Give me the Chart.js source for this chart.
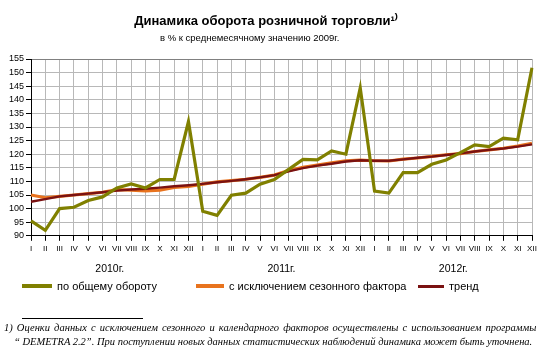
<!DOCTYPE html>
<html><head><meta charset="utf-8">
<script src="https://cdn.jsdelivr.net/npm/chart.js@4.4.1/dist/chart.umd.min.js"></script>
<style>
html,body{margin:0;padding:0;background:#fff;}
#wrap{position:relative;width:558px;height:361px;overflow:hidden;font-family:Arial,"Liberation Sans",sans-serif;}
#c{position:absolute;left:0;top:0;}
#sub{position:absolute;left:160px;top:32px;font-size:9.5px;color:#000;white-space:nowrap;line-height:12px;}
#fnline{position:absolute;left:22px;top:318px;width:121px;height:0;border-top:1px solid #000;}
.fn{position:absolute;left:4px;font-family:"Liberation Serif",serif;font-style:italic;font-size:10.5px;color:#000;white-space:nowrap;}
.lg{position:absolute;top:279px;height:14px;display:flex;align-items:center;font-size:11px;color:#000;white-space:nowrap;}
.lg i{display:inline-block;height:4px;margin-right:5px;}
</style></head>
<body><div id="wrap"><canvas id="c" width="558" height="361"></canvas>
<div id="sub"></div>
<div class="lg" id="lg0" style="left:22px"><i style="width:30px"></i><span></span></div>
<div class="lg" id="lg1" style="left:196px"><i style="width:28px"></i><span></span></div>
<div class="lg" id="lg2" style="left:418px"><i style="width:26px;height:3px"></i><span></span></div>
<div id="fnline"></div>
<div class="fn" id="fn1" style="top:322px;word-spacing:1.5px">1) Оценки  данных с исключением  сезонного и календарного  факторов осуществлены с использованием  программы</div>
<div class="fn" id="fn2" style="top:336px;left:14px">“ DEMETRA 2.2”.  При поступлении новых данных статистических наблюдений динамика может быть уточнена.</div>
</div>
<script>
const months = ['I','II','III','IV','V','VI','VII','VIII','IX','X','XI','XII'];
const years = ['2010г.','2011г.','2012г.'];
const categories = [].concat(months, months, months);
const totalTurnover = [95.5,92,100,100.5,103,104.3,107.6,109.1,107.6,110.7,110.7,132,
  99,97.5,104.9,105.7,109,110.7,114.4,118.1,117.9,121.2,120,144.4,
  106.4,105.7,113.2,113.2,116.3,117.9,120.6,123.4,122.8,125.9,125.3,151.8];
const seasonAdj = [105,104,104.5,105,105.5,106,107,106.8,106.5,106.8,107.8,108.2,
  109,109.8,110.3,110.8,111.5,112.3,114,115.2,116,116.8,117.6,117.8,
  117.6,117.5,118.2,118.6,119.2,119.8,120.2,121,121.6,122.2,123,124];
const trend = [102.5,103.5,104.5,105,105.5,106,106.6,107,107.3,107.7,108.2,108.6,
  109.1,109.7,110.2,110.8,111.5,112.3,113.7,114.9,115.8,116.5,117.3,117.8,
  117.6,117.6,118.1,118.7,119.1,119.7,120.3,121,121.6,122.1,122.8,123.6];
const yearPos = [5.5,17.5,29.5];
const seriesNames = ['по общему обороту','с исключением сезонного фактора','тренд'];
const colors = ['#808000','#E8731E','#7A1212'];
const titleText = 'Динамика оборота розничной торговли¹⁾';
const subtitleText = 'в % к среднемесячному значению 2009г.';

document.getElementById('sub').textContent = subtitleText;
seriesNames.forEach((n,i)=>{
  const el=document.getElementById('lg'+i);
  el.querySelector('i').style.background=colors[i];
  el.querySelector('span').textContent=n;
});

const F='Arial, "Liberation Sans", sans-serif';
new Chart(document.getElementById('c'), {
  type:'line',
  data:{labels:categories, datasets:[
    {label:seriesNames[0], data:totalTurnover, borderColor:colors[0], backgroundColor:colors[0], borderWidth:3.2, pointRadius:0, tension:0, order:0},
    {label:seriesNames[1], data:seasonAdj, borderColor:colors[1], backgroundColor:colors[1], borderWidth:3.2, pointRadius:0, tension:0, order:2},
    {label:seriesNames[2], data:trend, borderColor:colors[2], backgroundColor:colors[2], borderWidth:2.4, pointRadius:0, tension:0, order:1}
  ]},
  options:{
    responsive:false, animation:false,
    layout:{padding:{left:0,right:26,top:0,bottom:80}},
    plugins:{
      tooltip:{enabled:false},
      legend:{display:false},
      title:{display:true, text:titleText, color:'#000',
        font:{family:F, size:13, weight:'bold'}, padding:{top:14,bottom:29.4}}
    },
    scales:{
      x:{type:'category', position:'bottom', weight:0, offset:false,
        grid:{color:'#b8b8b8', lineWidth:1, tickLength:5, tickColor:'#000', drawTicks:true},
        border:{color:'#000', width:1},
        ticks:{color:'#000', font:{family:F, size:8}, maxRotation:0, autoSkip:false, padding:3}},
      x2:{type:'linear', position:'bottom', weight:1, min:0, max:35,
        grid:{display:false, drawTicks:false}, border:{display:false},
        afterBuildTicks:(s)=>{s.ticks = yearPos.map(v=>({value:v}));},
        ticks:{color:'#000', font:{family:F, size:10.5}, padding:6, autoSkip:false, maxRotation:0,
          callback:(v)=>{const i=yearPos.indexOf(v); return i>=0?years[i]:'';}}},
      y:{min:90, max:155,
        afterBuildTicks:(s)=>{const t=[];for(let v=90;v<=155;v+=5)t.push({value:v});s.ticks=t;},
        afterFit:(s)=>{s.width=31;},
        grid:{color:(ctx)=>ctx.tick && ctx.tick.value===155?'#808080':'#b8b8b8', lineWidth:1, tickLength:5, tickColor:'#000'},
        border:{color:'#000', width:1},
        ticks:{color:'#000', font:{family:F, size:9}, padding:2, autoSkip:false}}
    }
  }
});
</script></body></html>
